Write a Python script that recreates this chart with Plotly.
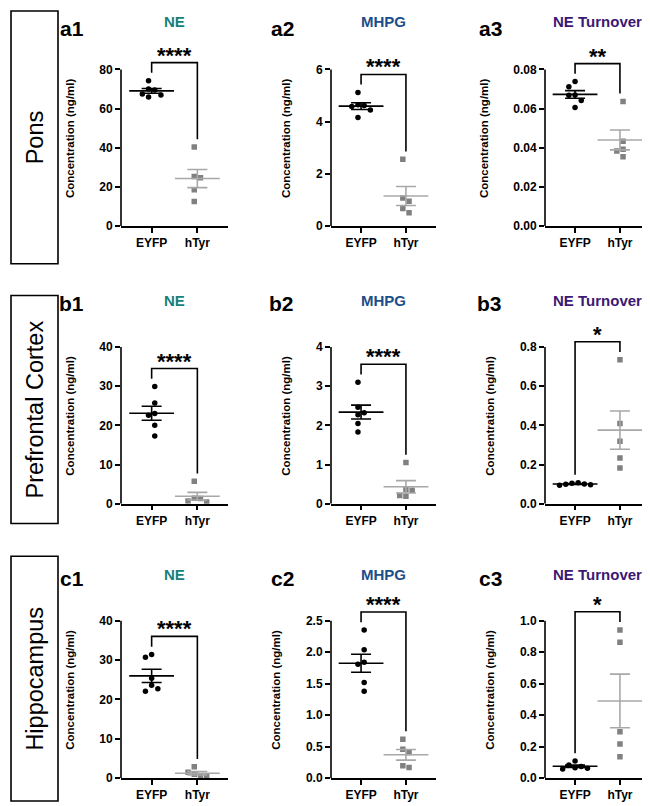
import numpy as np
import plotly.graph_objects as go

# ---------------- data ----------------
groups = ["EYFP", "hTyr"]
regions = ["Pons", "Prefrontal Cortex", "Hippocampus"]
analytes = ["NE", "MHPG", "NE Turnover"]
panel_labels = [["a1", "a2", "a3"], ["b1", "b2", "b3"], ["c1", "c2", "c3"]]
y_title = "Concentration (ng/ml)"

pons_ne_eyfp = [74.3, 70.0, 69.5, 67.0, 66.0, 67.5]
pons_ne_htyr = [40.4, 24.7, 25.3, 18.5, 12.6]
pons_mhpg_eyfp = [5.12, 4.65, 4.62, 4.58, 4.45, 4.16]
pons_mhpg_htyr = [2.56, 1.08, 0.95, 0.67, 0.51]
pons_turn_eyfp = [0.0738, 0.0712, 0.0670, 0.0668, 0.0642, 0.0606]
pons_turn_htyr = [0.0637, 0.0433, 0.0392, 0.0384, 0.0354]

pfc_ne_eyfp = [29.9, 25.7, 22.6, 23.0, 20.0, 17.3]
pfc_ne_htyr = [5.7, 1.4, 1.3, 0.7, 0.4]
pfc_mhpg_eyfp = [3.10, 2.46, 2.32, 2.27, 2.05, 1.83]
pfc_mhpg_htyr = [1.05, 0.36, 0.34, 0.21, 0.19]
pfc_turn_eyfp = [0.107, 0.104, 0.101, 0.099, 0.097, 0.094]
pfc_turn_htyr = [0.735, 0.409, 0.319, 0.233, 0.182]

hip_ne_eyfp = [31.4, 30.7, 25.4, 23.6, 22.7, 22.1]
hip_ne_htyr = [2.9, 1.5, 1.0, 0.6, 0.4]
hip_mhpg_eyfp = [2.35, 2.04, 1.84, 1.81, 1.52, 1.38]
hip_mhpg_htyr = [0.62, 0.46, 0.41, 0.17, 0.20]
hip_turn_eyfp = [0.109, 0.084, 0.074, 0.067, 0.063, 0.059]
hip_turn_htyr = [0.941, 0.863, 0.295, 0.217, 0.137]

y_ticks = [
    [[0, 20, 40, 60, 80], [0, 2, 4, 6], [0, 0.02, 0.04, 0.06, 0.08]],
    [[0, 10, 20, 30, 40], [0, 1, 2, 3, 4], [0, 0.2, 0.4, 0.6, 0.8]],
    [[0, 10, 20, 30, 40], [0, 0.5, 1.0, 1.5, 2.0, 2.5], [0, 0.2, 0.4, 0.6, 0.8, 1.0]],
]
tick_formats = [["d", "d", ".2f"], ["d", "d", ".1f"], ["d", ".1f", ".1f"]]
stars = [["****", "****", "**"], ["****", "****", "*"], ["****", "****", "*"]]

data = [
    [(pons_ne_eyfp, pons_ne_htyr), (pons_mhpg_eyfp, pons_mhpg_htyr), (pons_turn_eyfp, pons_turn_htyr)],
    [(pfc_ne_eyfp, pfc_ne_htyr), (pfc_mhpg_eyfp, pfc_mhpg_htyr), (pfc_turn_eyfp, pfc_turn_htyr)],
    [(hip_ne_eyfp, hip_ne_htyr), (hip_mhpg_eyfp, hip_mhpg_htyr), (hip_turn_eyfp, hip_turn_htyr)],
]

# ---------------- styles / layout ----------------
W, H = 650, 806
FONT = "Liberation Sans, Arial, sans-serif"
title_colors = ["#16807b", "#1c4f8a", "#3b1873"]
pt_colors = ["#000000", "#808080"]
mean_colors = ["#000000", "#a8a8a8"]
symbols = ["circle", "square"]
AX_W = 1.6
X_RANGE = [-0.67, 1.67]
MARKER = 5.5
SWARM_D = 6.2   # px spacing used for the beeswarm layout

col_px = [(113, 220), (323, 428), (537, 642)]
row_px = [(220, 62), (500, 342), (777, 618)]     # (zero px, top tick px)
TOP_FACTOR = 1.12
label_right_px = [78, 288, 496]
label_y_px = [21, 298, 575]
title_y_px = [14, 295, 571]
box_px = [(3, 258), (290, 520), (553, 800)]


def fx(p):
    return p / W


def fy(p):
    return 1 - p / H


def swarm_offsets(values, px_per_y, px_per_x, d):
    """Beeswarm layout: offsets (x data units) so markers do not overlap."""
    v = np.asarray(values, dtype=float)
    order = np.argsort(-v)
    placed = []
    offs = np.zeros(len(v))
    for n, i in enumerate(order):
        yp = v[i] * px_per_y
        k = 0
        sign = 1 if n % 2 == 0 else -1
        while True:
            cands = [0.0] if k == 0 else [sign * k * d, -sign * k * d]
            ok = None
            for cx in cands:
                if all((cx - px) ** 2 + (yp - py) ** 2 >= d * d for px, py in placed):
                    ok = cx
                    break
            if ok is not None:
                placed.append((ok, yp))
                offs[i] = ok / px_per_x
                break
            k += 1
    # centre the swarm on its group position
    return offs - (offs.max() + offs.min()) / 2


fig = go.Figure()
layout = dict(
    width=W, height=H, margin=dict(l=0, r=0, t=0, b=0),
    paper_bgcolor="white", plot_bgcolor="white", showlegend=False,
    font=dict(family=FONT, color="black"),
)
shapes = []
annotations = []

for r in range(3):
    for c in range(3):
        idx = r * 3 + c + 1
        sfx = "" if idx == 1 else str(idx)
        xa, ya = "x" + sfx, "y" + sfx
        ticks = y_ticks[r][c]
        tmax = ticks[-1]
        zero_px, top_px = row_px[r]
        dom_top_px = zero_px - TOP_FACTOR * (zero_px - top_px)
        px_per_y = (zero_px - top_px) / tmax
        px_per_x = (col_px[c][1] - col_px[c][0]) / (X_RANGE[1] - X_RANGE[0])

        layout["xaxis" + sfx] = dict(
            domain=[fx(col_px[c][0]), fx(col_px[c][1])], anchor=ya,
            range=X_RANGE, showgrid=False, zeroline=False,
            tickmode="array", tickvals=[0, 1], ticktext=groups,
            showline=True, linewidth=AX_W, linecolor="black",
            ticks="outside", ticklen=5, tickwidth=AX_W, tickcolor="black",
            tickfont=dict(family=FONT, size=12, color="black", weight="bold"),
            fixedrange=True,
        )
        layout["yaxis" + sfx] = dict(
            domain=[fy(zero_px), fy(dom_top_px)], anchor=xa,
            range=[0, TOP_FACTOR * tmax], showgrid=False, zeroline=False,
            showline=False, tickmode="array", tickvals=ticks,
            tickformat=tick_formats[r][c],
            ticks="outside", ticklen=5, tickwidth=AX_W, tickcolor="black",
            tickfont=dict(family=FONT, size=12, color="black", weight="bold"),
            title=dict(text=y_title, standoff=22,
                       font=dict(family=FONT, size=11.5, color="black", weight="bold")),
            fixedrange=True,
        )
        # y axis line only up to the top tick
        shapes.append(dict(type="line", xref=xa + " domain", yref=ya,
                           x0=0, x1=0, y0=0, y1=tmax,
                           line=dict(color="black", width=AX_W)))

        vals = data[r][c]
        for g in range(2):
            v = np.array(vals[g], dtype=float)
            xo = g + swarm_offsets(v, px_per_y, px_per_x, SWARM_D)
            fig.add_trace(go.Scatter(
                x=xo, y=v, xaxis=xa, yaxis=ya, mode="markers",
                marker=dict(color=pt_colors[g], symbol=symbols[g], size=MARKER,
                            line=dict(width=0)),
                hovertemplate=groups[g] + ": %{y}<extra></extra>",
            ))
        for g in range(2):
            v = np.array(vals[g], dtype=float)
            mean = v.mean()
            sem = v.std(ddof=1) / np.sqrt(len(v))
            fig.add_trace(go.Scatter(
                x=[g], y=[mean], xaxis=xa, yaxis=ya, mode="markers",
                marker=dict(symbol="line-ew", size=32,
                            line=dict(width=1.6, color=mean_colors[g])),
                error_y=dict(type="data", array=[sem], visible=True,
                             width=10, thickness=1.6, color=mean_colors[g]),
                hoverinfo="skip",
            ))

        # significance bracket
        m0 = max(vals[0])
        m1 = max(vals[1])
        top = max(m0, m1) + 0.115 * tmax
        fig.add_trace(go.Scatter(
            x=[0, 0, 1, 1],
            y=[m0 + 0.05 * tmax, top, top, m1 + 0.05 * tmax],
            xaxis=xa, yaxis=ya, mode="lines",
            line=dict(color="black", width=1.6), hoverinfo="skip",
            cliponaxis=False,
        ))
        annotations.append(dict(
            xref=xa, yref=ya, x=0.5, y=top, text=stars[r][c], showarrow=False,
            xanchor="center", yanchor="bottom", yshift=-7,
            font=dict(family=FONT, size=22, color="black", weight="bold"),
        ))
        # panel title
        annotations.append(dict(
            xref=xa + " domain", yref="paper", x=0.5, y=fy(title_y_px[r]),
            text=analytes[c], showarrow=False, xanchor="center", yanchor="middle",
            font=dict(family=FONT, size=15, color=title_colors[c], weight="bold"),
        ))
        # panel label
        annotations.append(dict(
            xref="paper", yref="paper", x=fx(label_right_px[c]), y=fy(label_y_px[r]),
            text=panel_labels[r][c], showarrow=False, xanchor="right", yanchor="middle",
            font=dict(family=FONT, size=21, color="black", weight="bold"),
        ))

# row boxes with region names
for r in range(3):
    t, b = box_px[r]
    shapes.append(dict(type="rect", xref="paper", yref="paper",
                       x0=fx(3), x1=fx(50), y0=fy(b), y1=fy(t),
                       line=dict(color="black", width=1.6)))
    annotations.append(dict(
        xref="paper", yref="paper", x=fx(27), y=fy((t + b) / 2),
        text=regions[r], showarrow=False, textangle=-90,
        xanchor="center", yanchor="middle",
        font=dict(family=FONT, size=23.5, color="black"),
    ))

layout["shapes"] = shapes
layout["annotations"] = annotations
fig.update_layout(**layout)
fig.write_html("out.html")
